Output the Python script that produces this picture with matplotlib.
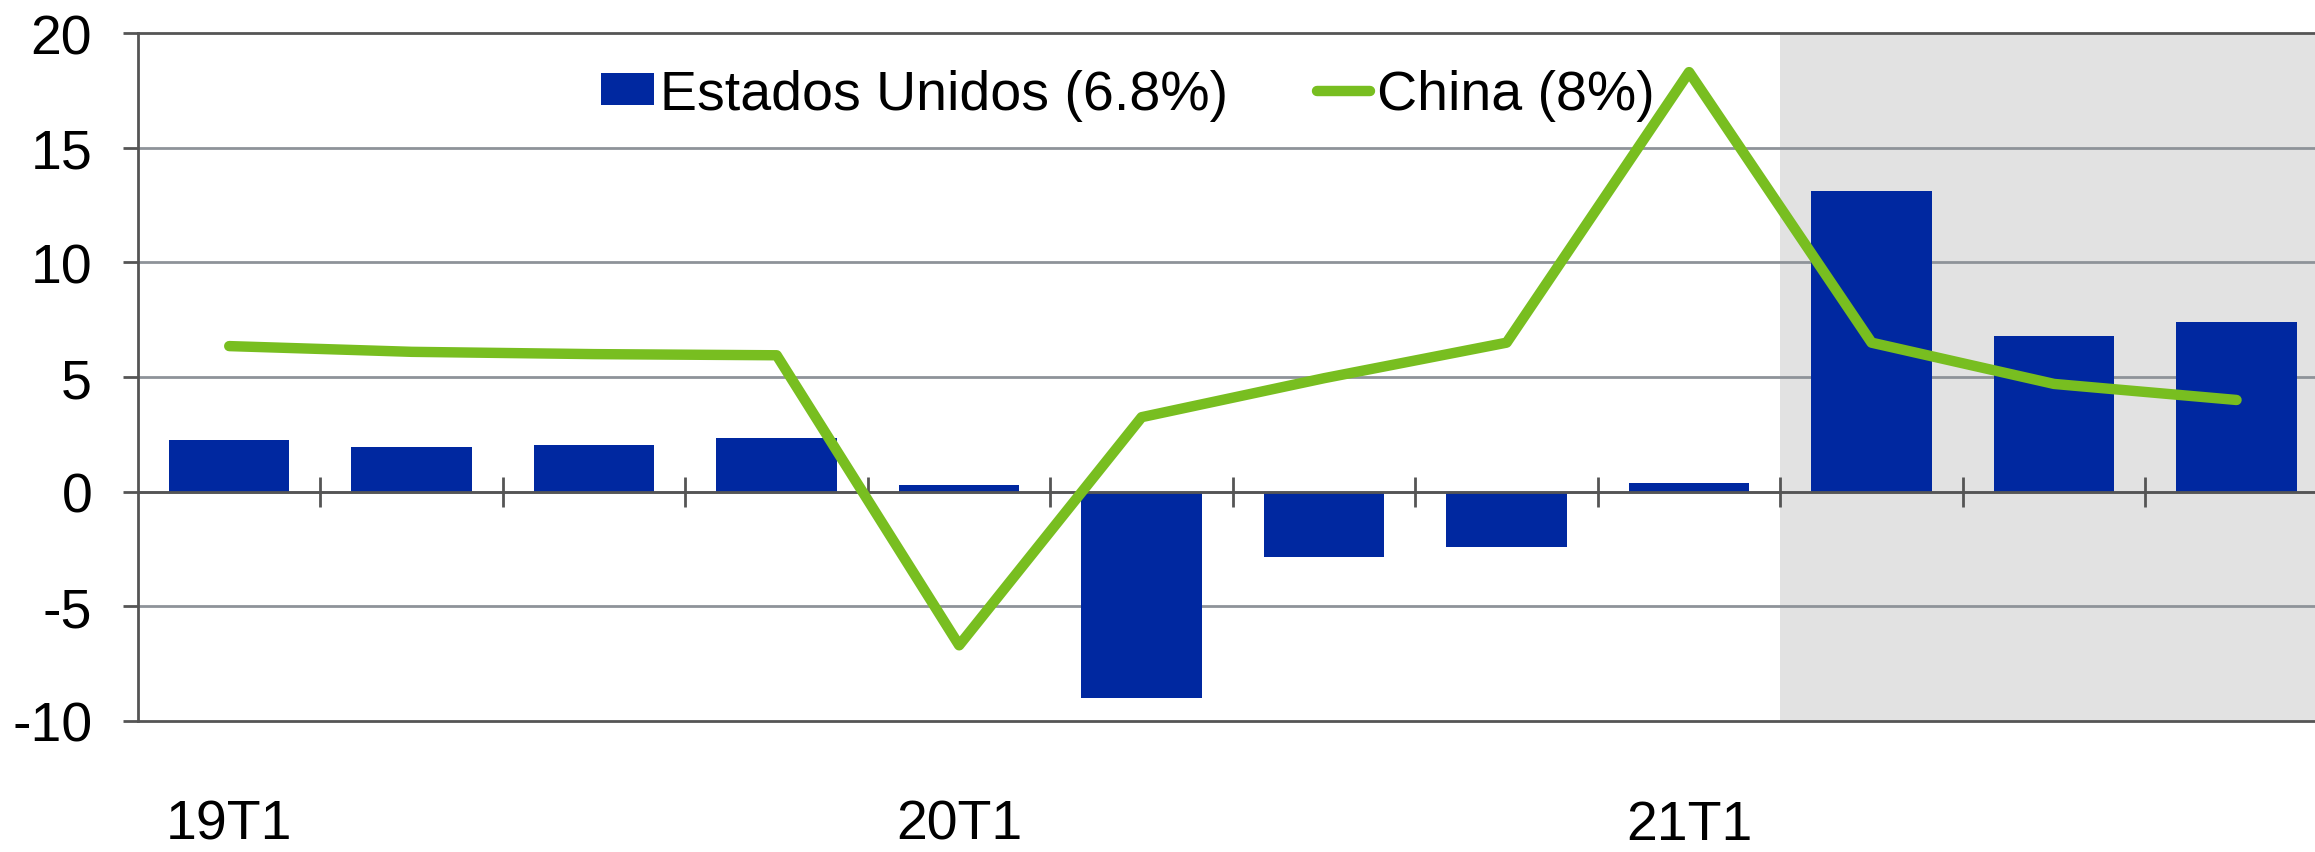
import matplotlib.pyplot as plt
import numpy as np

# --- Datos ---
trimestres = ['19T1', '19T2', '19T3', '19T4', '20T1', '20T2', '20T3', '20T4',
              '21T1', '21T2', '21T3', '21T4']
estados_unidos = [2.25, 1.95, 2.05, 2.32, 0.31, -9.0, -2.85, -2.4, 0.38, 13.1, 6.8, 7.4]
china = [6.35, 6.1, 6.0, 5.95, -6.7, 3.25, 4.95, 6.5, 18.3, 6.5, 4.7, 4.0]
etiquetas_x = ['19T1', '20T1', '21T1']

azul = '#0028A0'
verde = '#78BE20'

plt.rcParams['font.family'] = ['Liberation Sans', 'DejaVu Sans']
plt.rcParams['axes.unicode_minus'] = False

fig = plt.figure(figsize=(23.15, 8.53), dpi=100)
ax = fig.add_axes([0.0596, 0.1536, 0.9404, 0.8064])

x = np.arange(len(trimestres))

# zona de previsiones sombreada
ax.axvspan(8.5, 12, color='#E2E2E2', zorder=0, lw=0)

# rejilla horizontal
for v in range(-5, 20, 5):
    ax.axhline(v, color='#8E9399', lw=2, zorder=1)

barras = ax.bar(x, estados_unidos, width=0.66, color=azul, zorder=2)
linea, = ax.plot(x, china, color=verde, lw=7.5, solid_capstyle='round',
                 solid_joinstyle='round', zorder=4)

# eje en cero con marcas entre trimestres
ax.axhline(0, color='#555555', lw=2, zorder=3)
limites = x[:-1] + 0.5
ax.plot(limites, np.zeros(len(limites)), ls='none', marker='|', markersize=22,
        markeredgewidth=2, color='#555555', zorder=3)

ax.set_xlim(-0.5, 11.43)
ax.set_ylim(-10, 20)

ax.set_yticks(range(-10, 21, 5))
ax.tick_params(axis='y', direction='out', length=11, width=2, color='#555555',
               labelsize=40, pad=22)
ax.set_xticks([trimestres.index(t) for t in etiquetas_x])
ax.set_xticklabels(etiquetas_x)
ax.tick_params(axis='x', length=0, labelsize=40, pad=56)

ax.spines['right'].set_visible(False)
for s in ['left', 'top', 'bottom']:
    ax.spines[s].set_color('#555555')
    ax.spines[s].set_linewidth(2)

ax.legend([barras, linea], ['Estados Unidos (6.8%)', 'China (8%)'],
          loc='center left', bbox_to_anchor=(0.2127, 0.91), ncol=2, frameon=False,
          fontsize=40, handlelength=0.95, handleheight=0.5, handletextpad=0.12,
          columnspacing=1.6, borderaxespad=0, borderpad=0)

fig.savefig('out.png', dpi=100)
